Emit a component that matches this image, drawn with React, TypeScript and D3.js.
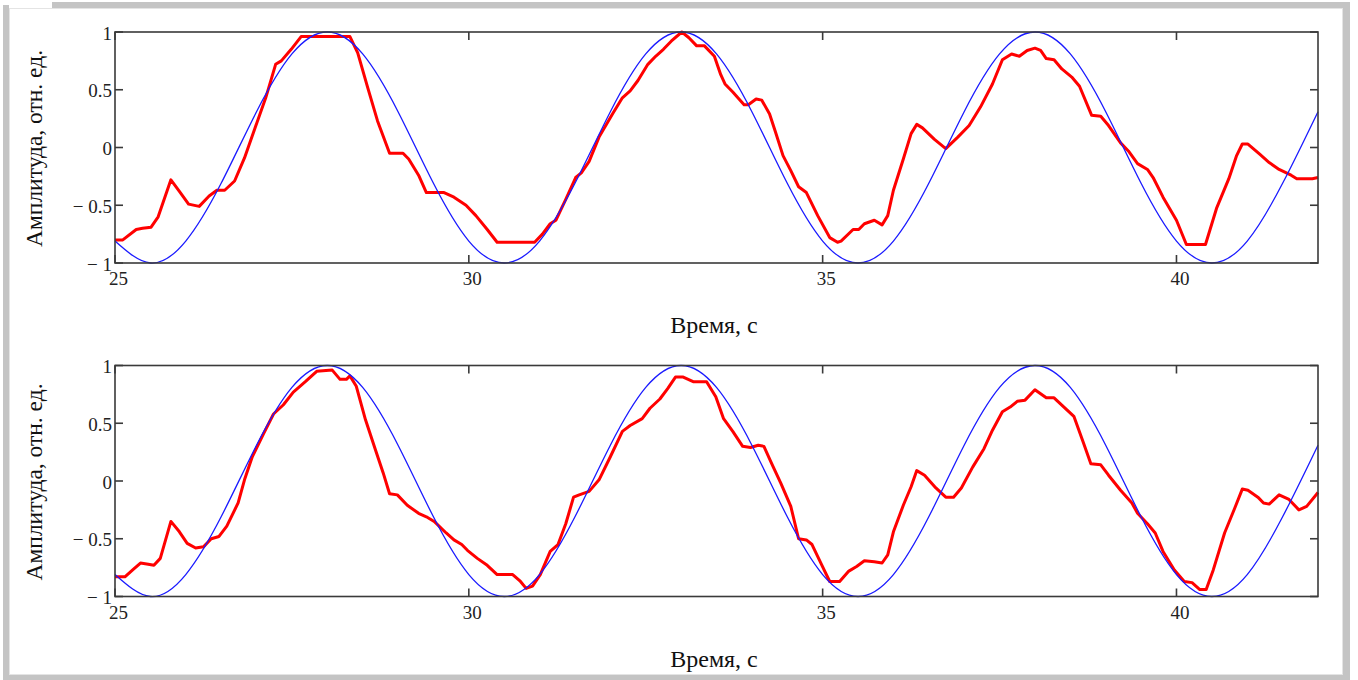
import React from 'react';
import * as d3 from 'd3';

// Time axis ticks and amplitude ticks
const xTicks = [25, 30, 35, 40];
const yTicks = [-1, -0.5, 0, 0.5, 1];
const yTickLabels = ['\u2212 1', '\u2212 0.5', '0', '0.5', '1'];

const blueT = d3.range(25, 42.001, 0.5);
const blueV = [
  -0.81, -1, -0.81, -0.31, 0.31, 0.81, 1, 0.81, 0.31, -0.31,
  -0.81, -1, -0.81, -0.31, 0.31, 0.81, 1, 0.81, 0.31, -0.31,
  -0.81, -1, -0.81, -0.31, 0.31, 0.81, 1, 0.81, 0.31, -0.31,
  -0.81, -1, -0.81, -0.31, 0.31,
];

// Upper panel, measured signal (red)
const topT = [
  25.0, 25.11, 25.3, 25.39, 25.51, 25.61, 25.79, 25.91, 26.04, 26.19, 26.33, 26.44, 26.55, 26.69,
  26.83, 26.98, 27.13, 27.27, 27.35, 27.49, 27.63, 28.32, 28.43, 28.57, 28.71, 28.88, 29.07, 29.15,
  29.29, 29.4, 29.65, 29.79, 29.96, 30.1, 30.26, 30.4, 30.93, 31.04, 31.15, 31.23, 31.37, 31.51,
  31.59, 31.7, 31.84, 32.03, 32.17, 32.28, 32.39, 32.53, 32.64, 32.75, 32.86, 33.01, 33.11, 33.22,
  33.33, 33.47, 33.56, 33.62, 33.73, 33.89, 33.95, 34.06, 34.14, 34.25, 34.33, 34.44, 34.55, 34.66,
  34.77, 34.93, 35.1, 35.21, 35.26, 35.43, 35.51, 35.59, 35.73, 35.84, 35.92, 36.0, 36.14, 36.25,
  36.33, 36.41, 36.58, 36.74, 36.91, 37.07, 37.23, 37.4, 37.54, 37.67, 37.78, 37.89, 38.0, 38.08,
  38.16, 38.27, 38.38, 38.52, 38.63, 38.8, 38.93, 39.04, 39.21, 39.32, 39.45, 39.59, 39.67, 39.81,
  40.0, 40.14, 40.41, 40.57, 40.74, 40.85, 40.93, 41.01, 41.18, 41.31, 41.45, 41.62, 41.7, 41.92, 42.0,
];
const topV = [
  -0.8, -0.8, -0.71, -0.7, -0.69, -0.6, -0.28, -0.38, -0.49, -0.51, -0.42, -0.37, -0.37, -0.29,
  -0.09, 0.17, 0.43, 0.72, 0.75, 0.85, 0.96, 0.96, 0.82, 0.52, 0.23, -0.05, -0.05, -0.1,
  -0.24, -0.39, -0.39, -0.43, -0.5, -0.59, -0.71, -0.82, -0.82, -0.75, -0.66, -0.63, -0.45, -0.26,
  -0.22, -0.12, 0.09, 0.29, 0.43, 0.49, 0.58, 0.72, 0.79, 0.85, 0.92, 1.0, 0.95, 0.88,
  0.88, 0.79, 0.63, 0.55, 0.48, 0.37, 0.37, 0.42, 0.41, 0.29, 0.14, -0.07, -0.2, -0.34,
  -0.39, -0.59, -0.78, -0.82, -0.81, -0.71, -0.71, -0.66, -0.63, -0.67, -0.59, -0.37, -0.1, 0.12,
  0.2, 0.17, 0.07, -0.01, 0.09, 0.19, 0.35, 0.55, 0.76, 0.81, 0.79, 0.84, 0.86, 0.84,
  0.77, 0.76, 0.68, 0.61, 0.53, 0.28, 0.27, 0.19, 0.04, -0.03, -0.14, -0.19, -0.26, -0.43,
  -0.63, -0.84, -0.84, -0.52, -0.27, -0.07, 0.03, 0.03, -0.06, -0.13, -0.19, -0.24, -0.27, -0.27, -0.26,
];

// Lower panel, measured signal (red)
const bottomT = [
  25.0, 25.14, 25.25, 25.36, 25.47, 25.55, 25.64, 25.79, 25.91, 26.02, 26.14, 26.25, 26.36, 26.47,
  26.58, 26.74, 26.83, 26.94, 27.1, 27.24, 27.38, 27.52, 27.69, 27.85, 28.07, 28.18, 28.27, 28.32,
  28.41, 28.54, 28.68, 28.79, 28.88, 28.99, 29.13, 29.29, 29.4, 29.51, 29.68, 29.79, 29.9, 29.98,
  30.12, 30.26, 30.4, 30.62, 30.73, 30.81, 30.9, 31.01, 31.15, 31.26, 31.37, 31.48, 31.56, 31.7,
  31.84, 32.0, 32.17, 32.28, 32.45, 32.56, 32.7, 32.81, 32.92, 33.03, 33.17, 33.36, 33.49, 33.6,
  33.73, 33.87, 33.98, 34.09, 34.17, 34.28, 34.41, 34.55, 34.66, 34.77, 34.85, 34.99, 35.1, 35.24,
  35.37, 35.48, 35.59, 35.73, 35.84, 35.92, 36.0, 36.14, 36.25, 36.33, 36.44, 36.6, 36.74, 36.85,
  36.96, 37.12, 37.28, 37.4, 37.54, 37.65, 37.75, 37.86, 38.0, 38.16, 38.27, 38.41, 38.55, 38.68,
  38.79, 38.93, 39.04, 39.21, 39.37, 39.45, 39.59, 39.7, 39.81, 39.97, 40.11, 40.22, 40.33, 40.42,
  40.52, 40.68, 40.82, 40.93, 41.01, 41.15, 41.23, 41.31, 41.45, 41.59, 41.73, 41.84, 42.0,
];
const bottomV = [
  -0.83, -0.83, -0.77, -0.71, -0.72, -0.73, -0.67, -0.35, -0.44, -0.54, -0.58, -0.57, -0.5, -0.48,
  -0.39, -0.19, 0.01, 0.21, 0.41, 0.58, 0.66, 0.77, 0.86, 0.95, 0.96, 0.88, 0.88, 0.91,
  0.82, 0.53, 0.27, 0.07, -0.11, -0.12, -0.21, -0.28, -0.31, -0.35, -0.45, -0.51, -0.55, -0.6,
  -0.67, -0.73, -0.81, -0.81, -0.87, -0.93, -0.91, -0.81, -0.61, -0.55, -0.37, -0.14, -0.12, -0.09,
  0.01, 0.21, 0.43, 0.48, 0.54, 0.63, 0.71, 0.8, 0.9, 0.9, 0.86, 0.86, 0.73, 0.54,
  0.43, 0.3, 0.29, 0.31, 0.3, 0.15, -0.02, -0.22, -0.5, -0.51, -0.55, -0.73, -0.87, -0.87,
  -0.78, -0.74, -0.69, -0.7, -0.71, -0.64, -0.44, -0.21, -0.05, 0.09, 0.05, -0.06, -0.14, -0.14,
  -0.06, 0.12, 0.28, 0.44, 0.6, 0.64, 0.69, 0.7, 0.79, 0.72, 0.72, 0.64, 0.56, 0.34,
  0.15, 0.14, 0.05, -0.08, -0.19, -0.28, -0.37, -0.45, -0.61, -0.77, -0.87, -0.88, -0.94, -0.94,
  -0.77, -0.45, -0.24, -0.07, -0.08, -0.14, -0.19, -0.2, -0.12, -0.16, -0.25, -0.22, -0.1,
];

const W = 1358;
const H = 680;
const left = 115;
const right = 1318;
const plotH = 231;
const font = '"Liberation Serif", "Times New Roman", serif';

const x = d3.scaleLinear().domain([25, 42]).range([left, right]);

type PanelProps = { top: number; t: number[]; v: number[] };

const Panel = ({ top, t, v }: PanelProps) => {
  const y = d3.scaleLinear().domain([-1, 1]).range([top + plotH, top]);
  const line = d3.line<number>().x((d, i) => x(t[i])).y((d) => y(d));
  const blue = d3
    .line<number>()
    .x((d, i) => x(blueT[i]))
    .y((d) => y(d))
    .curve(d3.curveNatural);
  const bottom = top + plotH;
  const tick = 8;

  return (
    <g>
      <path d={line(v) || ''} fill="none" stroke="#ff0000" strokeWidth={3} strokeLinejoin="round" />
      <path d={blue(blueV) || ''} fill="none" stroke="#1a1aff" strokeWidth={1.3} />
      <rect x={left} y={top} width={right - left} height={plotH} fill="none" stroke="#3a3a3a" strokeWidth={1.6} />
      {xTicks.map((d) => (
        <g key={'x' + d}>
          <line x1={x(d)} x2={x(d)} y1={top} y2={top + tick} stroke="#3a3a3a" strokeWidth={1.6} />
          <line x1={x(d)} x2={x(d)} y1={bottom} y2={bottom - tick} stroke="#3a3a3a" strokeWidth={1.6} />
          <text x={x(d) + 3.5} y={bottom + 22} textAnchor="middle" fontFamily={font} fontSize={19} fill="#222">
            {d}
          </text>
        </g>
      ))}
      {yTicks.map((d, i) => (
        <g key={'y' + d}>
          <line x1={left} x2={left + tick} y1={y(d)} y2={y(d)} stroke="#3a3a3a" strokeWidth={1.6} />
          <line x1={right} x2={right - tick} y1={y(d)} y2={y(d)} stroke="#3a3a3a" strokeWidth={1.6} />
          <text x={112} y={y(d) + 7.5} textAnchor="end" fontFamily={font} fontSize={19} fill="#222">
            {yTickLabels[i]}
          </text>
        </g>
      ))}
      <text x={714} y={bottom + 70} textAnchor="middle" fontFamily={font} fontSize={24} fill="#111">
        Время, с
      </text>
      <text
        transform={`translate(42, ${top + plotH / 2 + 1}) rotate(-90)`}
        textAnchor="middle"
        fontFamily={font}
        fontSize={23.5}
        fill="#111"
      >
        Амплитуда, отн. ед.
      </text>
    </g>
  );
};

export default function App() {
  return (
    <div style={{ position: 'absolute', left: 0, top: 0 }}>
      <svg width={W} height={H} style={{ display: 'block', background: '#fff' }}>
        {/* grey window frame */}
        <rect x={52} y={2} width={1298} height={6} fill="#c4c4c4" />
        <rect x={3} y={5} width={6} height={675} fill="#c4c4c4" />
        <rect x={1343} y={2} width={7} height={678} fill="#c4c4c4" />
        <rect x={3} y={675} width={1347} height={5} fill="#c4c4c4" />
        <rect x={9.5} y={8.5} width={1333} height={666} fill="none" stroke="#e4e4e4" strokeWidth={1} />
        <Panel top={32} t={topT} v={topV} />
        <Panel top={365.5} t={bottomT} v={bottomV} />
      </svg>
    </div>
  );
}
